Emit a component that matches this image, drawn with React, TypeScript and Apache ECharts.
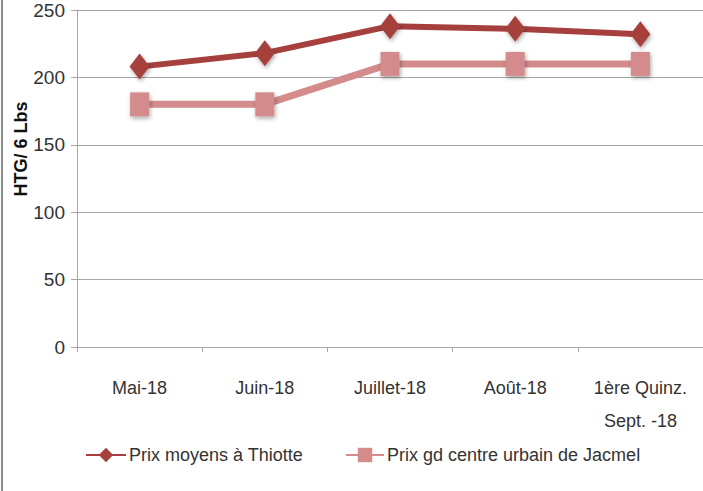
import React, { useEffect, useRef } from "react";
import * as echarts from "echarts";

const categories = ["Mai-18", "Juin-18", "Juillet-18", "Août-18", "1ère Quinz.\nSept. -18"];
const seriesNames = ["Prix moyens à Thiotte", "Prix gd centre urbain de Jacmel"];
const thiotte = [208, 218, 238, 236, 232];
const jacmel = [180, 180, 210, 210, 210];
const yAxisName = "HTG/ 6 Lbs";

const FONT = "'Liberation Sans', Arial, sans-serif";
const DARK = "#A5403E";
const PINK = "#D48B8B";

export default function App() {
  const ref = useRef<HTMLDivElement>(null);
  useEffect(() => {
    if (!ref.current) return;
    const chart = echarts.init(ref.current, undefined, { renderer: "svg" });
    const shadow = { shadowBlur: 4, shadowColor: "rgba(0,0,0,0.35)", shadowOffsetX: 1, shadowOffsetY: 2 };
    chart.setOption({
      animation: false,
      backgroundColor: "#ffffff",
      textStyle: { fontFamily: FONT },
      grid: { left: 77, right: 0, top: 10, bottom: 144, containLabel: false },
      xAxis: {
        type: "category",
        data: categories,
        boundaryGap: true,
        axisLine: { lineStyle: { color: "#A6A6A6", width: 1 } },
        axisTick: { show: true, length: 5, lineStyle: { color: "#A6A6A6" } },
        axisLabel: { color: "#333", fontSize: 18, margin: 24, lineHeight: 33, fontFamily: FONT },
        splitLine: { show: false },
      },
      yAxis: {
        type: "value",
        min: 0,
        max: 250,
        interval: 50,
        axisLine: { show: true, lineStyle: { color: "#A6A6A6", width: 1 } },
        axisTick: { show: true, length: 6, lineStyle: { color: "#A6A6A6" } },
        axisLabel: { color: "#333", fontSize: 19, margin: 12, fontFamily: FONT },
        splitLine: { show: true, lineStyle: { color: "#A6A6A6", width: 1 } },
      },
      legend: [
        {
          data: [seriesNames[0]],
          left: 80,
          top: 441,
          itemWidth: 40,
          itemHeight: 18,
          itemGap: 4,
          textStyle: { color: "#333", fontSize: 18, fontFamily: FONT, padding: [0, 0, 0, -2] },
        },
        {
          data: [seriesNames[1]],
          left: 340,
          top: 441,
          itemWidth: 38,
          itemHeight: 18,
          textStyle: { color: "#333", fontSize: 18, fontFamily: FONT, padding: [0, 0, 0, -2] },
        },
      ],
      graphic: [
        {
          type: "line",
          shape: { x1: 2, y1: 0, x2: 2, y2: 491 },
          style: { stroke: "#8C8C8C", lineWidth: 2 },
        },
        {
          type: "text",
          x: 21,
          y: 149,
          rotation: Math.PI / 2,
          style: {
            text: yAxisName,
            fontSize: 18,
            fontWeight: "bold",
            fill: "#111",
            fontFamily: FONT,
            align: "center",
            verticalAlign: "middle",
          },
        },
      ],
      series: [
        {
          name: seriesNames[1],
          type: "line",
          data: jacmel,
          symbol: "rect",
          symbolSize: [19, 24],
          lineStyle: { color: PINK, width: 7 },
          itemStyle: { color: PINK, ...shadow },
          z: 2,
        },
        {
          name: seriesNames[0],
          type: "line",
          data: thiotte,
          symbol: "diamond",
          symbolSize: [20, 26],
          lineStyle: { color: DARK, width: 6 },
          itemStyle: { color: DARK, ...shadow },
          z: 3,
        },
      ],
    });
    return () => chart.dispose();
  }, []);
  return (
    <div
      ref={ref}
      style={{ position: "absolute", left: 0, top: 0, width: 703, height: 491 }}
    />
  );
}
